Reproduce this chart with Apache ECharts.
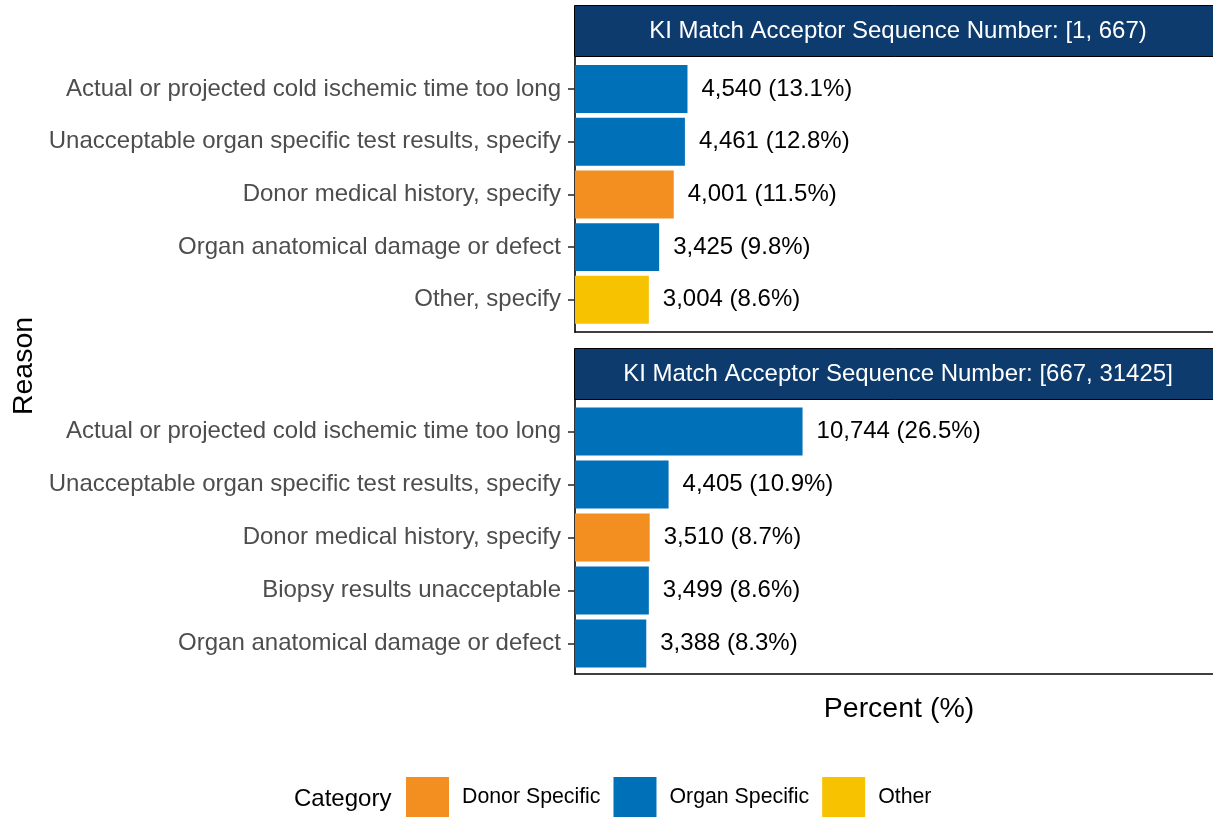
<!DOCTYPE html>
<html>
<head>
<meta charset="utf-8">
<script src="https://cdn.jsdelivr.net/npm/echarts@6/dist/echarts.min.js"></script>
<style>html,body{margin:0;padding:0;background:#fff}#c{width:1213px;height:818px}</style>
</head>
<body>
<div id="c"></div>
<script>
// ---- data ----
const panelTitles = ['KI Match Acceptor Sequence Number: [1, 667)', 'KI Match Acceptor Sequence Number: [667, 31425]'];
const reasons1 = ['Actual or projected cold ischemic time too long', 'Unacceptable organ specific test results, specify', 'Donor medical history, specify', 'Organ anatomical damage or defect', 'Other, specify'];
const counts1 = [4540, 4461, 4001, 3425, 3004];
const percents1 = [13.1, 12.8, 11.5, 9.8, 8.6];
const groups1 = ['Organ Specific', 'Organ Specific', 'Donor Specific', 'Organ Specific', 'Other'];
const reasons2 = ['Actual or projected cold ischemic time too long', 'Unacceptable organ specific test results, specify', 'Donor medical history, specify', 'Biopsy results unacceptable', 'Organ anatomical damage or defect'];
const counts2 = [10744, 4405, 3510, 3499, 3388];
const percents2 = [26.5, 10.9, 8.7, 8.6, 8.3];
const groups2 = ['Organ Specific', 'Organ Specific', 'Donor Specific', 'Organ Specific', 'Organ Specific'];
const categoryNames = ['Donor Specific', 'Organ Specific', 'Other'];
const categoryColors = ['#F28F20', '#0070B9', '#F7C300'];

const FONT = "'Liberation Sans', Arial, Helvetica, sans-serif";
const chart = echarts.init(document.getElementById('c'), null, {renderer: 'canvas'});

const L = 575, W = 638;
const frames = [{top: 57, height: 275}, {top: 400, height: 274}];
const barGrids = [{top: 62.6, height: 263.6}, {top: 405, height: 265}];
const panels = [
  {reasons: reasons1, counts: counts1, pct: percents1, groups: groups1},
  {reasons: reasons2, counts: counts2, pct: percents2, groups: groups2}
];

const grid = [], xAxis = [], yAxis = [], series = [];
frames.forEach((f, p) => {
  grid.push({left: L, top: f.top, width: W, height: f.height, containLabel: false});
  xAxis.push({gridIndex: 2*p, type: 'value', min: 0, max: 1, axisLine: {show: true, onZero: false, lineStyle: {color: '#000', width: 1.6}}, axisTick: {show: false}, axisLabel: {show: false}, splitLine: {show: false}});
  yAxis.push({gridIndex: 2*p, type: 'value', min: 0, max: 1, axisLine: {show: true, onZero: false, lineStyle: {color: '#000', width: 1.6}}, axisTick: {show: false}, axisLabel: {show: false}, splitLine: {show: false}});
  const b = barGrids[p];
  grid.push({left: L, top: b.top, width: W, height: b.height, containLabel: false});
  xAxis.push({gridIndex: 2*p+1, type: 'value', min: 0, max: 74.3, show: false});
  yAxis.push({gridIndex: 2*p+1, type: 'category', inverse: true, data: panels[p].reasons,
    axisLine: {show: false},
    axisTick: {show: true, alignWithLabel: true, length: 7, lineStyle: {color: '#333', width: 1.6}},
    axisLabel: {margin: 14, color: '#4D4D4D', fontSize: 24, fontFamily: FONT},
    splitLine: {show: false}});
  const pan = panels[p];
  categoryNames.forEach((cn, ci) => {
    series.push({
      name: cn, type: 'bar', xAxisIndex: 2*p+1, yAxisIndex: 2*p+1, stack: 'panel' + p,
      barWidth: '91%',
      itemStyle: {color: categoryColors[ci]},
      data: pan.pct.map((v, i) => pan.groups[i] === cn ? v : null),
      label: {show: true, position: 'right', distance: 14, color: '#000', fontSize: 24, fontFamily: FONT,
        formatter: (pr) => pan.counts[pr.dataIndex].toLocaleString('en-US') + ' (' + pan.pct[pr.dataIndex].toFixed(1) + '%)'},
      emphasis: {disabled: true}, animation: false
    });
  });
});

const stripTops = [5, 348];
const graphic = [];
stripTops.forEach((t, p) => {
  graphic.push({type: 'rect', left: L - 1, top: t, shape: {width: W + 2, height: 51}, style: {fill: '#0D3B6E', stroke: '#000', lineWidth: 1}, z: 10});
  graphic.push({type: 'text', x: 898, y: t + 26, style: {text: panelTitles[p], fill: '#fff', font: '24px ' + FONT, textAlign: 'center', textVerticalAlign: 'middle'}, z: 11});
});
graphic.push({type: 'text', x: 24, y: 366, rotation: Math.PI / 2, style: {text: 'Reason', fill: '#000', font: '28.5px ' + FONT, textAlign: 'center', textVerticalAlign: 'middle'}});
graphic.push({type: 'text', x: 899, y: 709, style: {text: 'Percent (%)', fill: '#000', font: '28.5px ' + FONT, textAlign: 'center', textVerticalAlign: 'middle'}});
graphic.push({type: 'text', x: 294, y: 799, style: {text: 'Category', fill: '#000', font: '24px ' + FONT, textAlign: 'left', textVerticalAlign: 'middle'}});

chart.setOption({
  animation: false,
  grid, xAxis, yAxis, series, graphic,
  legend: {
    data: categoryNames, left: 401, top: 772, orient: 'horizontal',
    icon: 'rect', itemWidth: 43, itemHeight: 40, itemGap: 13,
    selectedMode: false,
    textStyle: {fontSize: 21.3, color: '#000', fontFamily: FONT, padding: [0, 0, 0, 8]}
  }
});
</script>
</body>
</html>
